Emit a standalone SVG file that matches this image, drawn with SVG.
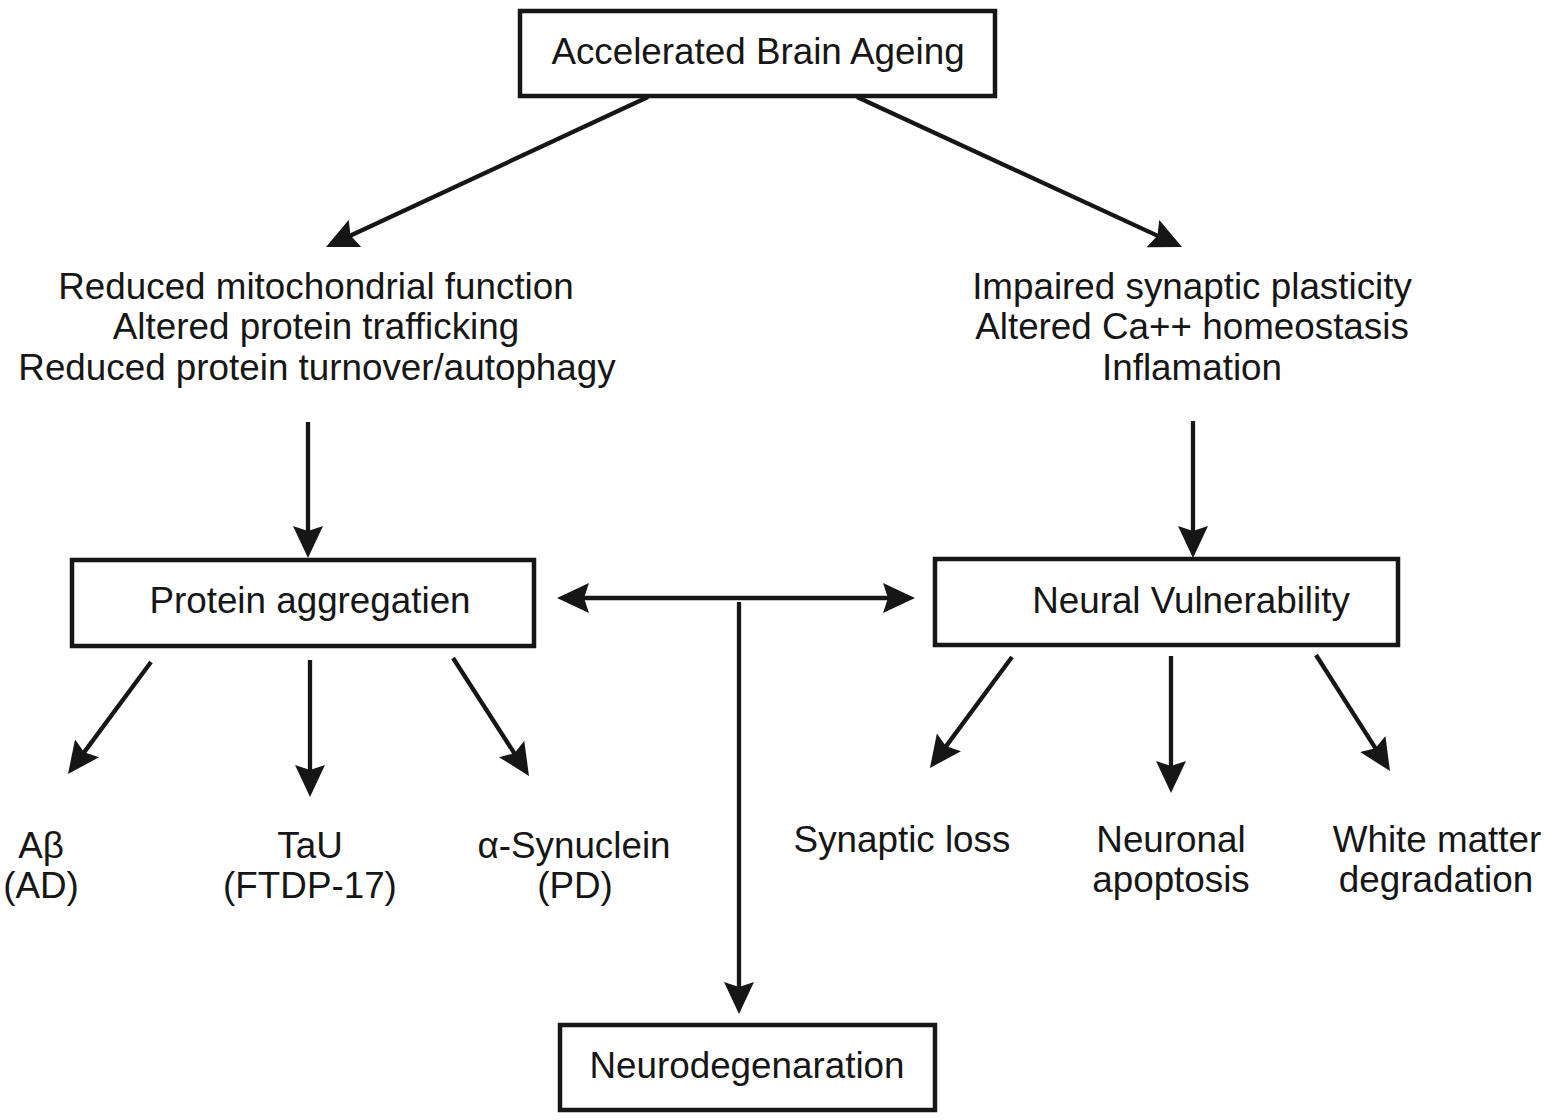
<svg xmlns="http://www.w3.org/2000/svg" width="1548" height="1120" viewBox="0 0 1548 1120">
<style>
  text { font-family: "Liberation Sans", Arial, sans-serif; font-size: 36.8px; fill: #161616; text-anchor: middle; }
  .box { fill: #ffffff; stroke: #161616; stroke-width: 4.5; }
  .conn { stroke: #161616; stroke-width: 4.3; fill: none; }
  .arr { marker-end: url(#ah); }
</style>
<defs>
  <marker id="ah" markerUnits="userSpaceOnUse" markerWidth="34" markerHeight="30" refX="6" refY="15" orient="auto-start-reverse">
    <path d="M0,0 L32,15 L0,30 L5,15 z" fill="#161616"/>
  </marker>
</defs>
<rect width="1548" height="1120" fill="#ffffff"/>

<g id="connectors">
  <line class="conn arr" x1="648" y1="97" x2="349.6" y2="236"/>
  <line class="conn arr" x1="857" y1="97" x2="1158.4" y2="236.1"/>
  <line class="conn arr" x1="308" y1="422" x2="308" y2="532"/>
  <line class="conn arr" x1="1193" y1="421" x2="1193" y2="532"/>
  <line class="conn" x1="583" y1="598" x2="889" y2="598" marker-start="url(#ah)" marker-end="url(#ah)"/>
  <line class="conn arr" x1="739" y1="602" x2="739" y2="988"/>
  <line class="conn arr" x1="151" y1="662" x2="83.5" y2="753.1"/>
  <line class="conn arr" x1="310" y1="660" x2="310" y2="771"/>
  <line class="conn arr" x1="453" y1="658" x2="514.9" y2="754.1"/>
  <line class="conn arr" x1="1012" y1="657" x2="945.4" y2="747.1"/>
  <line class="conn arr" x1="1171" y1="656" x2="1171" y2="767"/>
  <line class="conn arr" x1="1316" y1="655" x2="1376" y2="749.1"/>
</g>

<g id="accelerated-brain-ageing">
  <rect class="box" x="520" y="11" width="475" height="85"/>
  <text x="758" y="64">Accelerated Brain Ageing</text>
</g>

<g id="left-mechanisms">
  <text x="316" y="299">Reduced mitochondrial function</text>
  <text x="316" y="339">Altered protein trafficking</text>
  <text x="317" y="380">Reduced protein turnover/autophagy</text>
</g>

<g id="right-mechanisms">
  <text x="1192" y="299">Impaired synaptic plasticity</text>
  <text x="1192" y="339">Altered Ca++ homeostasis</text>
  <text x="1192" y="380">Inflamation</text>
</g>

<g id="protein-aggregation">
  <rect class="box" x="72" y="560" width="462" height="86"/>
  <text x="310" y="613">Protein aggregatien</text>
</g>

<g id="neural-vulnerability">
  <rect class="box" x="935" y="559" width="463" height="86"/>
  <text x="1191" y="613">Neural Vulnerability</text>
</g>

<g id="abeta">
  <text x="41" y="858">Aβ</text>
  <text x="41" y="898">(AD)</text>
</g>
<g id="tau">
  <text x="310" y="858">TaU</text>
  <text x="310" y="898">(FTDP-17)</text>
</g>
<g id="synuclein">
  <text x="574" y="858">α-Synuclein</text>
  <text x="575" y="898">(PD)</text>
</g>

<g id="synaptic-loss">
  <text x="902" y="852">Synaptic loss</text>
</g>
<g id="neuronal-apoptosis">
  <text x="1171" y="852">Neuronal</text>
  <text x="1171" y="892">apoptosis</text>
</g>
<g id="white-matter">
  <text x="1437" y="852">White matter</text>
  <text x="1436" y="892">degradation</text>
</g>

<g id="neurodegeneration">
  <rect class="box" x="560" y="1025" width="375" height="85"/>
  <text x="747" y="1078">Neurodegenaration</text>
</g>
</svg>
